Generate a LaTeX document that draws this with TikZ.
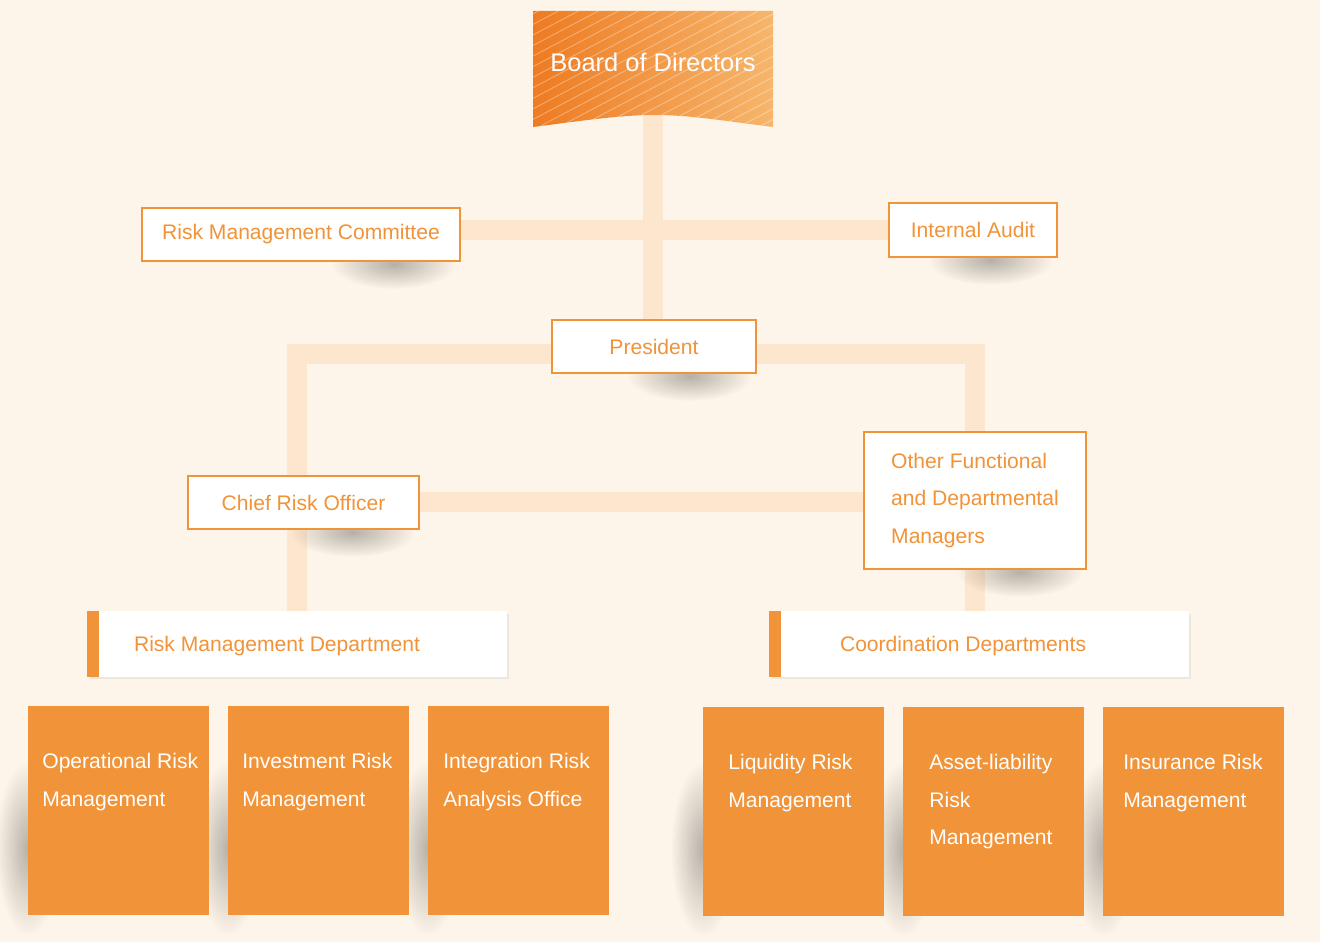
\documentclass[tikz,border=0pt]{standalone}
\usepackage{fontspec}
\setmainfont{Liberation Sans}
\usepackage{tikz}
\usetikzlibrary{positioning, shadows, fadings}
\pgfdeclarelayer{background}
\pgfsetlayers{background,main}

\definecolor{pagebg}{HTML}{FDF5E9}
\definecolor{linkpeach}{HTML}{FDE6CE}
\definecolor{boxorange}{HTML}{F19338}
\definecolor{boardleft}{HTML}{EE7B22}
\definecolor{boardright}{HTML}{F6B66C}
\newcommand{\boxfont}{\fontsize{12}{21.3}\selectfont}
\newcommand{\boardfont}{\fontsize{14.5}{17}\selectfont}
\tikzfading[name=softspot, inner color=transparent!30, outer color=transparent!100]

\begin{document}
\begin{tikzpicture}[x=0.02cm, y=-0.02cm,
	midbox/.style={draw=boxorange, line width=1.2pt, fill=white, text=boxorange,
		font=\boxfont, inner sep=0},
	deptbox/.style={fill=white, minimum width=8.4cm, minimum height=1.32cm, inner sep=0,
		drop shadow={shadow xshift=.05cm, shadow yshift=-.05cm, opacity=.12},
		path picture={\fill[boxorange] (path picture bounding box.south west)
			rectangle ([xshift=.24cm]path picture bounding box.north west);}},
	depttext/.style={anchor=west, inner sep=0, text=boxorange, font=\boxfont,
		xshift=#1cm, yshift=-.04cm},
	leafbox/.style={fill=boxorange, minimum width=3.62cm, minimum height=4.18cm,
		inner sep=0, anchor=north west},
	leaftext/.style={anchor=north west, inner sep=0, text=white, align=left,
		font=\boxfont, xshift=#1cm, yshift=-.94cm},
	link/.style={linkpeach, line width=0.4cm},
	softshadow/.style={black, opacity=.4, path fading=softspot}]

	\begin{pgfonlayer}{background}
		\fill[pagebg] (0,0) rectangle (1320,942);
	\end{pgfonlayer}
	\useasboundingbox (0,0) rectangle (1320,942);

	% board banner
	\shade[left color=boardleft, right color=boardright]
	(533,11) -- (773,11) -- (773,127) .. controls (725,121) and (690,115) .. (655,115)
	.. controls (620,115) and (580,121) .. (533,127) -- cycle;
	\begin{scope}
		\clip (533,11) -- (773,11) -- (773,127) .. controls (725,121) and (690,115) .. (655,115)
		.. controls (620,115) and (580,121) .. (533,127) -- cycle;
		\foreach \i in {-12,...,12}
			\draw[white, opacity=.35, line width=.5pt] (533+\i*20,130) -- ++(250,-132);
	\end{scope}
	\node[text=white, font=\boardfont, inner sep=0] (board) at (653,62) {Board of Directors};

	\node[midbox, minimum width=6.36cm, minimum height=1.06cm] (rmc) at (301,234.5) {Risk Management Committee};
	\node[midbox, minimum width=3.36cm, minimum height=1.08cm] (ia) at (973,230) {Internal Audit};
	\node[midbox, minimum width=4.08cm, minimum height=1.06cm] (pres) at (654,346.5) {President};
	\node[midbox, minimum width=4.62cm, minimum height=1.06cm] (cro) at (303.5,502.5) {Chief Risk Officer};
	\node[midbox, minimum width=4.44cm, minimum height=2.74cm, align=left] (oth) at (975,500.5)
		{Other Functional\\and Departmental\\Managers};

	\node[deptbox, label={[depttext=.94]west:Risk Management Department}] (rmd) at (297,644) {};
	\node[deptbox, label={[depttext=1.42]west:Coordination Departments}] (crd) at (979,644) {};

	\foreach \nm/\xpos/\ypos/\off/\txt in {
		opr/28/706/.28/{Operational Risk\\Management},
		inv/228/706/.28/{Investment Risk\\Management},
		itg/428/706/.3/{Integration Risk\\Analysis Office},
		liq/703/707/.5/{Liquidity Risk\\Management},
		alm/903/707/.52/{Asset-liability\\Risk\\Management},
		ins/1103/707/.4/{Insurance Risk\\Management}}
	{
		\node[leafbox, label={[leaftext=\off]north west:\txt}] (\nm) at (\xpos,\ypos) {};
		\begin{pgfonlayer}{background}
			\fill[softshadow] ([yshift=-.75cm]\nm.west) ellipse (.65cm and 1.75cm);
		\end{pgfonlayer}
	}

	\begin{pgfonlayer}{background}
		% links
		\draw[link] (board) -- (board |- pres.north);
		\draw[link] (rmc.east |- ia) -- (ia.west);
		\draw[link] ([yshift=-.15cm]pres.west) -| (rmd.north);
		\draw[link] ([yshift=-.15cm]pres.east) -| (oth |- crd.north);
		\draw[link] (cro.east) -- (cro.east -| oth.west);
		% shadows
		\foreach \nm in {rmc, ia, pres, cro, oth}
			\fill[softshadow] ([xshift=-1.35cm, yshift=-.04cm]\nm.south east) ellipse (1.25cm and .5cm);
	\end{pgfonlayer}
\end{tikzpicture}
\end{document}
